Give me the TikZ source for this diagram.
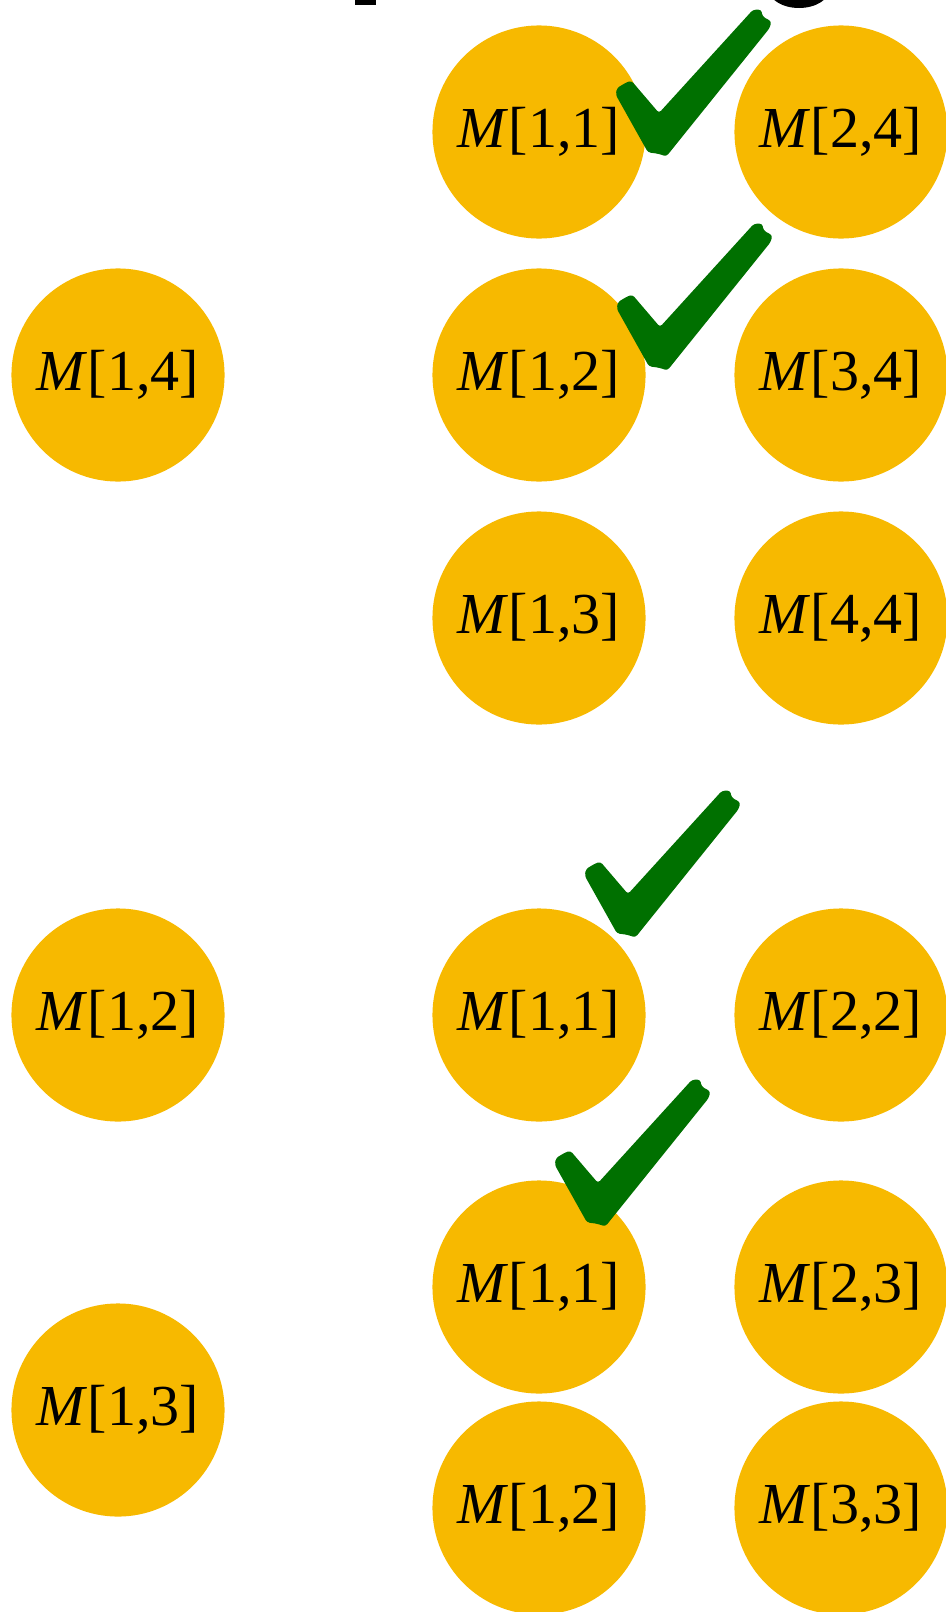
\documentclass[tikz,border=0pt]{standalone}
\usepackage{fontspec}
\setmainfont{Liberation Serif}
\definecolor{cellyellow}{RGB}{247,185,0}
\definecolor{tickgreen}{RGB}{0,112,0}
\tikzset{
  cell/.style={circle, fill=cellyellow, inner sep=0pt, minimum size=2.13cm,
    font=\fontsize{16.5}{20}\selectfont},
  tick/.pic={
    \fill[tickgreen, rounded corners=0.8pt]
      (-43.3,-18.3) -- (-42,-25) -- (-32.6,-30.6) -- (-27.6,-32.3) -- (0,0)
      -- (94,-103.3) -- (102.4,-103.3) -- (103.4,-96.6) -- (112.4,-91.6)
      -- (110.7,-85) -- (7.4,43.4) -- (-1,40.7) -- (-11,39.4) -- cycle;
  }
}
\begin{document}
\begin{tikzpicture}[x=0.01cm, y=-0.01cm]
    \useasboundingbox (0,0) rectangle (945,1612);
    % bits of the heading above the page edge
    \fill (355,-10) rectangle (376,5);
    \fill (799,-12) ellipse (31 and 20);
    % left column
    \node[cell] (p14) at (118,375) {\textit{M}[1,4]};
    \node[cell] (p12) at (118,1015) {\textit{M}[1,2]};
    \node[cell] (p13) at (118,1410) {\textit{M}[1,3]};
    % first group
    \node[cell] (a11) at (539,132) {\textit{M}[1,1]};
    \node[cell] (a24) at (841,132) {\textit{M}[2,4]};
    \node[cell] (a12) at (539,375) {\textit{M}[1,2]};
    \node[cell] (a34) at (841,375) {\textit{M}[3,4]};
    \node[cell] (a13) at (539,618) {\textit{M}[1,3]};
    \node[cell] (a44) at (841,618) {\textit{M}[4,4]};
    % second group
    \node[cell] (b11) at (539,1015) {\textit{M}[1,1]};
    \node[cell] (b22) at (841,1015) {\textit{M}[2,2]};
    \node[cell] (c11) at (539,1287) {\textit{M}[1,1]};
    \node[cell] (c23) at (841,1287) {\textit{M}[2,3]};
    \node[cell] (c12) at (539,1508) {\textit{M}[1,2]};
    \node[cell] (c33) at (841,1508) {\textit{M}[3,3]};
    % ticks
    \pic at (659,113) {tick};
    \pic at (660,327) {tick};
    \pic at (628,894) {tick};
    \pic at (598,1183) {tick};
\end{tikzpicture}
\end{document}
